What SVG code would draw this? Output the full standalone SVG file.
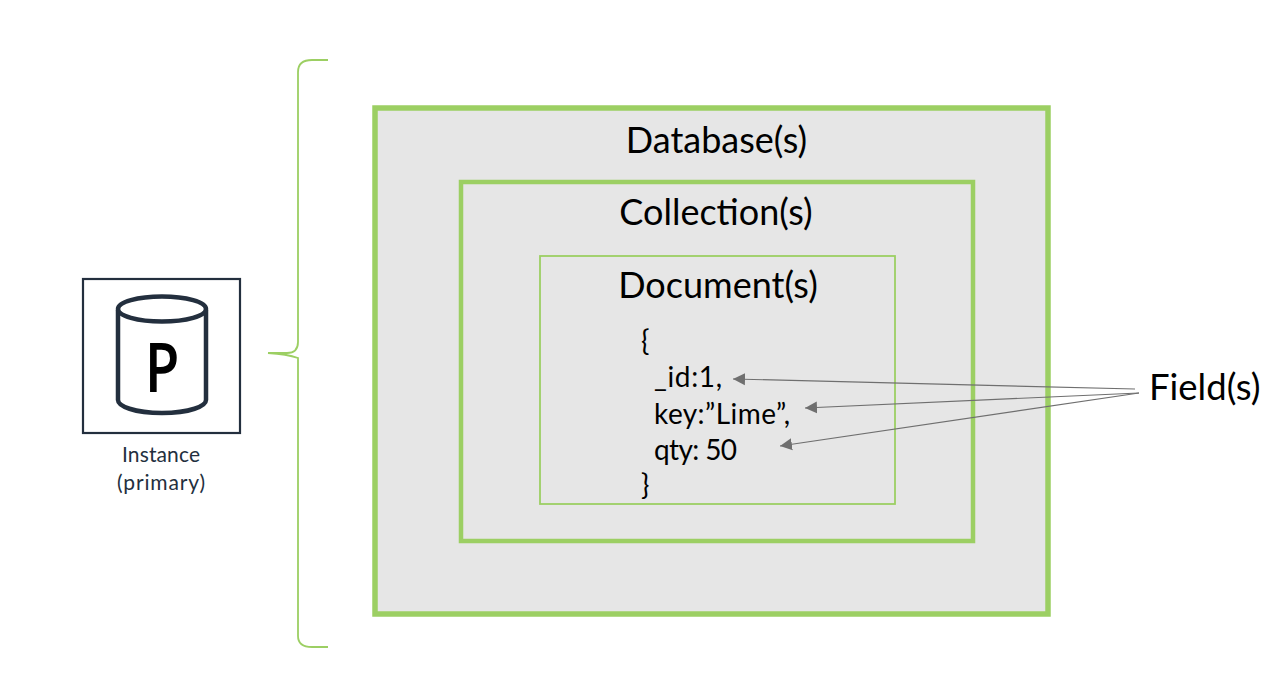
<svg xmlns="http://www.w3.org/2000/svg" width="1280" height="678" viewBox="0 0 1280 678">
<defs>
<style>
text{font-family:Lato,"Noto Sans",sans-serif;fill:#000}
.box{fill:#e6e6e6;stroke:#9ccf63}
.h{font-size:36px;text-anchor:middle}
.j{font-size:28px}
.cap{font-size:21px;fill:#232f3e}
.c{fill:none;stroke:#6f6f6f;stroke-width:1.2}
</style>
<marker id="a" markerUnits="userSpaceOnUse" markerWidth="13" markerHeight="13" refX="12" refY="6" orient="auto" viewBox="0 0 13 12"><path d="M0 0L12 6L0 12Z" fill="#6f6f6f"/></marker>
</defs>
<rect width="1280" height="678" fill="#fff"/>
<g id="brace"><path d="M328 60H312Q298 60 298 72V342Q298 353 287 353H268Q287 354 298 358V636Q298 647 312 647H328" fill="none" stroke="#9ccf63" stroke-width="1.8"/></g>
<g id="instance">
<rect x="83" y="279" width="157" height="154" fill="#fff" stroke="#232f3e" stroke-width="2.2"/>
<path d="M118 310V400C118 406 134 413 162 413C190 413 206 406 206 400V310" fill="#fff" stroke="#232f3e" stroke-width="4.5"/>
<ellipse cx="162" cy="309" rx="44" ry="12.5" fill="#fff" stroke="#232f3e" stroke-width="4.5"/>
<text transform="translate(162 392) scale(.83 1)" style="font-family:'Open Sans',sans-serif;font-size:68px;font-weight:600;text-anchor:middle">P</text>
<text class="cap" x="122" y="462" textLength="78">Instance</text>
<text class="cap" x="117" y="490" textLength="88">(primary)</text>
</g>
<g id="database"><rect class="box" x="375" y="108" width="673" height="506" stroke-width="5.5"/><text class="h" x="716.500" y="153">Database(s)</text></g>
<g id="collection"><rect class="box" x="461" y="182" width="512" height="359" stroke-width="4.500"/><text class="h" x="716" y="225">Collection(s)</text></g>
<g id="document"><rect class="box" x="540" y="256" width="355" height="248" stroke-width="1.800"/><text class="h" x="718" y="298">Document(s)</text>
<text class="j" x="641" y="351">{</text>
<text class="j" x="654" y="387" textLength="68">_id:1,</text>
<text class="j" x="654" y="424" textLength="136">key:”Lime”,</text>
<text class="j" x="654" y="460" textLength="83">qty: 50</text>
<text class="j" x="641" y="495">}</text>
</g>
<g id="field"><text x="1149" y="400" style="font-size:36.500px">Field(s)</text></g>
<g id="connectors">
<path class="c" d="M1135 389L733 379" marker-end="url(#a)"/>
<path class="c" d="M1139 393L805 408" marker-end="url(#a)"/>
<path class="c" d="M1139 393L780 446" marker-end="url(#a)"/>
</g>
</svg>
